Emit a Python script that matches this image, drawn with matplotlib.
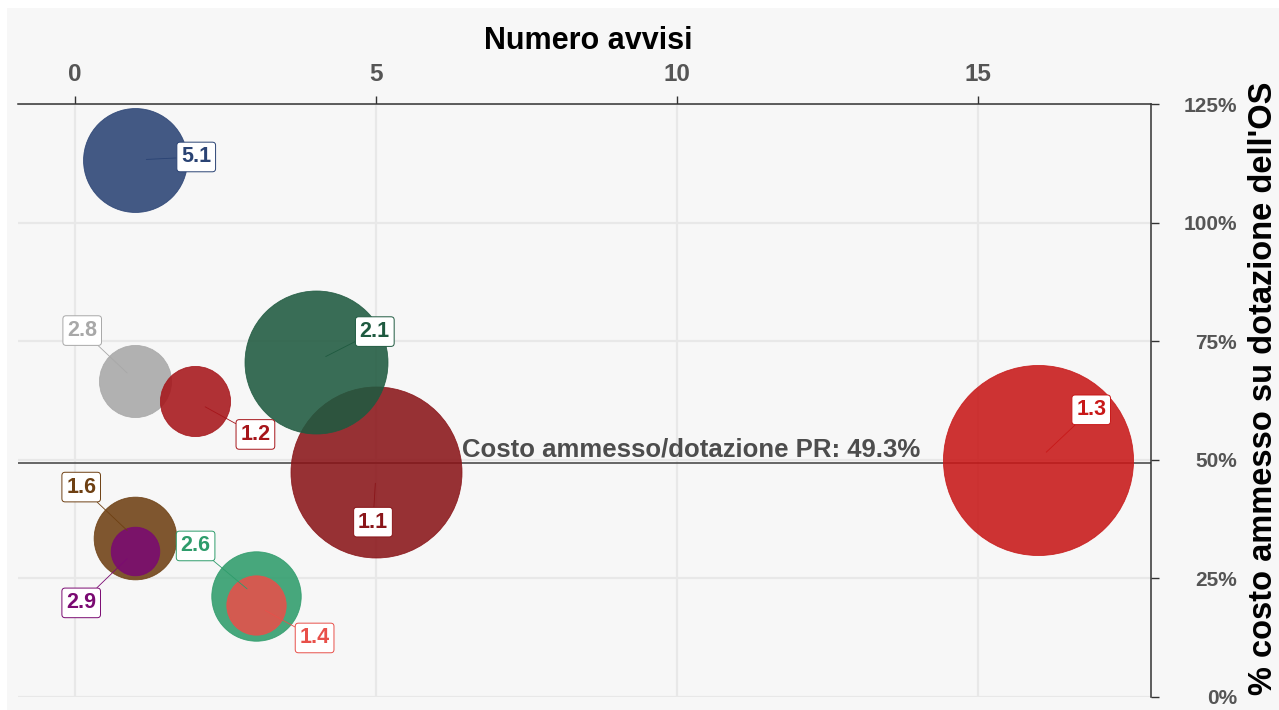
import matplotlib.pyplot as plt
from matplotlib.patches import Rectangle

plt.rcParams['font.family'] = ['Liberation Sans', 'DejaVu Sans']

# data
labels = ["1.3", "1.1", "2.1", "5.1", "2.6", "1.6", "2.8", "1.2", "1.4", "2.9"]
n_avvisi = [16, 5, 4, 1, 3, 1, 1, 2, 3, 1]
pct_costo = [0.500, 0.474, 0.707, 1.132, 0.213, 0.335, 0.667, 0.623, 0.194, 0.308]
peso = [90.3, 73.1, 51.1, 27.0, 20.0, 17.1, 13.0, 12.3, 8.8, 5.9]
colori = ["#c81818", "#8a1519", "#1f5a40", "#2a4374", "#2e9c6b",
          "#6e4013", "#a8a8a8", "#a6151a", "#e8504a", "#7a0a72"]
media_pr = 0.493

x_ticks = [0, 5, 10, 15]
y_ticks = [0, 0.25, 0.5, 0.75, 1.0, 1.25]
y_ticklabels = ["0%", "25%", "50%", "75%", "100%", "125%"]

# label offsets (pixels) from the bubble centre, as placed in the reference
label_offsets = [(53, 50), (-3, -50), (59, 30), (61, 3), (-60, 50),
                 (-54, 51), (-53, 50), (60, -33), (59, -33), (-54, -52)]

W, H = 1279, 710
fig = plt.figure(figsize=(W / 100, H / 100), dpi=100, facecolor="white")
fig.patches.append(Rectangle((7 / W, 0), 1, 1 - 8 / H, transform=fig.transFigure,
                             facecolor="#f7f7f7", edgecolor="none", zorder=-10))

left, right, top, bottom = 18, 1151, 104, 697
ax = fig.add_axes([left / W, 1 - bottom / H, (right - left) / W, (bottom - top) / H])
ax.set_facecolor("#f7f7f7")
ax.set_xlim(-0.947, 17.874)
ax.set_ylim(0, 1.25)

ax.grid(True, color="#e8e8e8", lw=1.6, zorder=0)
ax.set_axisbelow(True)

ax.axhline(media_pr, color="#5a5a5a", lw=1.3, zorder=1)
ax.text(6.43, media_pr + 0.004, f"Costo ammesso/dotazione PR: {media_pr * 100:.1f}%",
        fontsize=18.5, fontweight="bold", color="#4d4d4d", va="bottom", ha="left", zorder=5)

for lab, x, y, p, c, off in zip(labels, n_avvisi, pct_costo, peso, colori, label_offsets):
    ax.scatter(x, y, s=p * 207.4, color=c, alpha=0.88, edgecolors=c, linewidths=0.6, zorder=3)

for lab, x, y, p, c, off in zip(labels, n_avvisi, pct_costo, peso, colori, label_offsets):
    ax.annotate(lab, (x, y), xytext=off, textcoords="offset pixels",
                ha="center", va="center", fontsize=15.5, fontweight="bold", color=c,
                bbox=dict(boxstyle="round,pad=0.2,rounding_size=0.15",
                          facecolor="white", edgecolor=c, lw=0.7),
                arrowprops=dict(arrowstyle="-", color=c, lw=0.6, shrinkA=0, shrinkB=8),
                zorder=6)

ax.xaxis.tick_top()
ax.set_xticks(x_ticks)
ax.set_xticklabels([str(t) for t in x_ticks])
ax.yaxis.tick_right()
ax.set_yticks(y_ticks)
ax.set_yticklabels(y_ticklabels)
for t in ax.get_yticklabels():
    t.set_horizontalalignment("right")

ax.tick_params(axis="x", which="both", length=6, width=1, color="#333333", pad=7,
               labelsize=17.5, labelcolor="#555555")
ax.tick_params(axis="y", which="both", length=6, width=1, color="#333333", pad=56,
               labelsize=15, labelcolor="#555555")
for t in ax.get_xticklabels() + ax.get_yticklabels():
    t.set_fontweight("bold")

for side in ["left", "bottom"]:
    ax.spines[side].set_visible(False)
for side in ["top", "right"]:
    ax.spines[side].set_color("#333333")
    ax.spines[side].set_linewidth(1.1)

fig.text(588 / W, 1 - 41 / H, "Numero avvisi", fontsize=22, fontweight="bold",
         ha="center", va="center", color="black")
fig.text(1263 / W, 1 - 388 / H, "% costo ammesso su dotazione dell'OS", fontsize=23.5,
         fontweight="bold", rotation=90, ha="center", va="center", color="black")

fig.savefig("out.png", dpi=100, facecolor=fig.get_facecolor())
